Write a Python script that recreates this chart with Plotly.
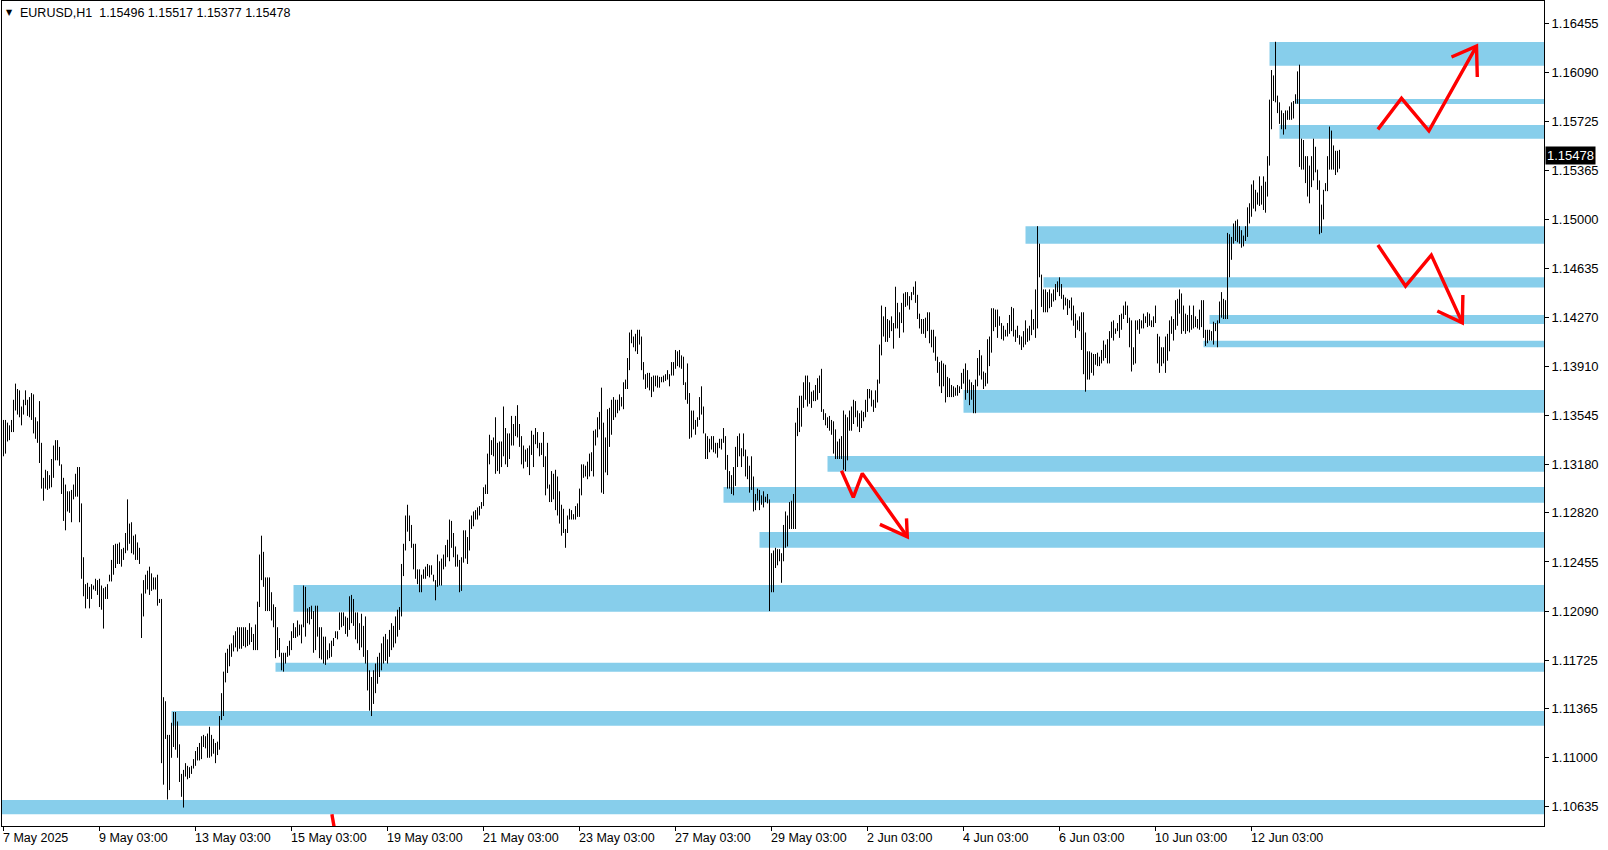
import plotly.graph_objects as go

# ---------------- data (EURUSD H1, bar index 0 = 7 May 2025 03:00) ----------------
highs = [
 1.1351,1.1351,1.1349,1.1347,1.1351,1.1366,1.1378,1.1374,1.1373,1.1361,
 1.1366,1.1373,1.1366,1.1368,1.1371,1.1370,1.1353,1.1350,1.1365,1.1334,
 1.1308,1.1314,1.1313,1.1310,1.1322,1.1332,1.1336,1.1336,1.1331,1.1318,
 1.1308,1.1303,1.1298,1.1298,1.1299,1.1303,1.1311,1.1316,1.1316,1.1289,
 1.1249,1.1229,1.1230,1.1227,1.1229,1.1228,1.1233,1.1232,1.1233,1.1228,
 1.1226,1.1227,1.1229,1.1236,1.1247,1.1258,1.1259,1.1259,1.1260,1.1255,
 1.1256,1.1267,1.1292,1.1274,1.1275,1.1265,1.1266,1.1260,1.1256,1.1222,
 1.1232,1.1236,1.1239,1.1242,1.1237,1.1234,1.1234,1.1236,1.1218,1.1218,
 1.1145,1.1142,1.1117,1.1117,1.1126,1.1134,1.1134,1.1127,1.1110,1.1088,
 1.1091,1.1096,1.1094,1.1093,1.1094,1.1099,1.1105,1.1108,1.1111,1.1116,
 1.1117,1.1116,1.1118,1.1123,1.1117,1.1114,1.1111,1.1112,1.1131,1.1148,
 1.1164,1.1178,1.1181,1.1184,1.1185,1.1191,1.1194,1.1197,1.1197,1.1197,
 1.1197,1.1197,1.1195,1.1200,1.1197,1.1192,1.1199,1.1216,1.1251,1.1265,
 1.1253,1.1234,1.1234,1.1234,1.1223,1.1214,1.1212,1.1197,1.1189,1.1178,
 1.1178,1.1178,1.1183,1.1187,1.1194,1.1200,1.1197,1.1202,1.1199,1.1199,
 1.1228,1.1227,1.1211,1.1212,1.1213,1.1209,1.1213,1.1213,1.1197,1.1197,
 1.1190,1.1190,1.1180,1.1185,1.1187,1.1189,1.1194,1.1194,1.1208,1.1208,
 1.1208,1.1205,1.1204,1.1220,1.1221,1.1218,1.1208,1.1208,1.1200,1.1207,
 1.1198,1.1205,1.1180,1.1165,1.1160,1.1165,1.1170,1.1175,1.1178,1.1185,
 1.1190,1.1192,1.1188,1.1195,1.1200,1.1198,1.1205,1.1210,1.1212,1.1244,
 1.1259,1.1280,1.1288,1.1280,1.1273,1.1259,1.1259,1.1240,1.1240,1.1236,
 1.1240,1.1242,1.1244,1.1243,1.1243,1.1236,1.1232,1.1251,1.1246,1.1248,
 1.1251,1.1258,1.1262,1.1277,1.1276,1.1267,1.1257,1.1251,1.1247,1.1249,
 1.1269,1.1269,1.1264,1.1277,1.1280,1.1283,1.1284,1.1286,1.1287,1.1290,
 1.1301,1.1303,1.1326,1.1340,1.1336,1.1338,1.1353,1.1334,1.1335,1.1335,
 1.1361,1.1345,1.1341,1.1341,1.1354,1.1348,1.1354,1.1362,1.1348,1.1339,
 1.1332,1.1329,1.1330,1.1332,1.1343,1.1340,1.1345,1.1342,1.1334,1.1334,
 1.1342,1.1324,1.1334,1.1303,1.1313,1.1311,1.1314,1.1309,1.1298,1.1288,
 1.1285,1.1270,1.1280,1.1285,1.1284,1.1281,1.1287,1.1289,1.1300,1.1318,
 1.1318,1.1317,1.1320,1.1326,1.1327,1.1343,1.1344,1.1353,1.1357,1.1375,
 1.1349,1.1338,1.1359,1.1360,1.1366,1.1368,1.1366,1.1366,1.1370,1.1368,
 1.1379,1.1381,1.1397,1.1416,1.1418,1.1413,1.1415,1.1418,1.1418,1.1413,
 1.1394,1.1385,1.1386,1.1386,1.1383,1.1384,1.1384,1.1384,1.1383,1.1383,
 1.1384,1.1385,1.1388,1.1385,1.1394,1.1394,1.1403,1.1402,1.1403,1.1399,
 1.1398,1.1379,1.1393,1.1371,1.1358,1.1358,1.1351,1.1353,1.1368,1.1376,
 1.1361,1.1341,1.1339,1.1337,1.1339,1.1339,1.1334,1.1334,1.1337,1.1337,
 1.1345,1.1339,1.1325,1.1313,1.1310,1.1316,1.1331,1.1339,1.1341,1.1330,
 1.1341,1.1329,1.1324,1.1317,1.1324,1.1309,1.1296,1.1300,1.1299,1.1295,
 1.1298,1.1294,1.1296,1.1292,1.1252,1.1254,1.1256,1.1255,1.1255,1.1252,
 1.1273,1.1283,1.1280,1.1290,1.1291,1.1296,1.1349,1.1360,1.1369,1.1369,
 1.1379,1.1384,1.1384,1.1379,1.1372,1.1373,1.1377,1.1382,1.1384,1.1389,
 1.1359,1.1356,1.1353,1.1354,1.1351,1.1350,1.1344,1.1335,1.1337,1.1339,
 1.1358,1.1355,1.1353,1.1358,1.1361,1.1366,1.1365,1.1358,1.1356,1.1358,
 1.1357,1.1366,1.1374,1.1374,1.1373,1.1366,1.1373,1.1381,1.1407,1.1436,
 1.1428,1.1435,1.1426,1.1425,1.1428,1.1423,1.1450,1.1438,1.1431,1.1438,
 1.1445,1.1446,1.1446,1.1443,1.1446,1.1450,1.1454,1.1444,1.1430,1.1426,
 1.1426,1.1427,1.1431,1.1431,1.1418,1.1418,1.1413,1.1398,1.1394,1.1395,
 1.1393,1.1392,1.1383,1.1382,1.1377,1.1376,1.1375,1.1377,1.1376,1.1386,
 1.1389,1.1393,1.1388,1.1381,1.1379,1.1377,1.1381,1.1397,1.1403,1.1399,
 1.1387,1.1386,1.1411,1.1413,1.1434,1.1434,1.1433,1.1433,1.1428,1.1423,
 1.1421,1.1418,1.1423,1.1429,1.1435,1.1434,1.1418,1.1421,1.1414,1.1413,
 1.1417,1.1425,1.1419,1.1421,1.1433,1.1426,1.1448,1.1495,1.1482,1.1459,
 1.1448,1.1448,1.1446,1.1448,1.1445,1.1448,1.1452,1.1454,1.1457,1.1452,
 1.1444,1.1442,1.1441,1.1440,1.1442,1.1436,1.1430,1.1425,1.1428,1.1431,
 1.1431,1.1416,1.1402,1.1402,1.1401,1.1400,1.1400,1.1401,1.1398,1.1403,
 1.1410,1.1407,1.1411,1.1417,1.1424,1.1425,1.1419,1.1423,1.1429,1.1430,
 1.1436,1.1439,1.1436,1.1427,1.1425,1.1405,1.1425,1.1425,1.1426,1.1425,
 1.1430,1.1428,1.1431,1.1430,1.1425,1.1428,1.1436,1.1415,1.1413,1.1405,
 1.1405,1.1413,1.1415,1.1425,1.1428,1.1426,1.1440,1.1441,1.1448,1.1445,
 1.1436,1.1430,1.1429,1.1436,1.1429,1.1436,1.1428,1.1426,1.1433,1.1440,
 1.1440,1.1418,1.1418,1.1418,1.1417,1.1424,1.1423,1.1425,1.1439,1.1446,
 1.1441,1.1440,1.1490,1.1489,1.1487,1.1497,1.1499,1.1500,1.1495,1.1492,
 1.1488,1.1495,1.1509,1.1512,1.1526,1.1529,1.1522,1.1520,1.1532,1.1525,
 1.1532,1.1528,1.1547,1.1589,1.1611,1.1607,1.1632,1.1592,1.1587,1.1581,
 1.1579,1.1581,1.1581,1.1584,1.1587,1.1588,1.1593,1.1610,1.1615,1.1560,
 1.1559,1.1547,1.1547,1.1540,1.1547,1.1560,1.1554,1.1537,1.1529,1.1511,
 1.1522,1.1527,1.1547,1.1569,1.1566,1.1555,1.1551,1.1551,1.15517,
]

lows = [
 1.1324,1.1326,1.1335,1.1336,1.1342,1.1342,1.1358,1.1355,1.1353,1.1347,
 1.1355,1.1362,1.1354,1.1353,1.1351,1.1341,1.1337,1.1334,1.1319,1.1300,
 1.1291,1.1300,1.1299,1.1300,1.1301,1.1308,1.1321,1.1321,1.1317,1.1296,
 1.1276,1.1269,1.1283,1.1282,1.1275,1.1292,1.1294,1.1294,1.1275,1.1233,
 1.1220,1.1211,1.1218,1.1211,1.1218,1.1225,1.1224,1.1221,1.1212,1.1210,
 1.1196,1.1218,1.1218,1.1231,1.1231,1.1236,1.1241,1.1244,1.1244,1.1242,
 1.1247,1.1252,1.1254,1.1259,1.1252,1.1251,1.1247,1.1247,1.1244,1.1189,
 1.1205,1.1222,1.1225,1.1221,1.1224,1.1225,1.1225,1.1213,1.1215,1.1096,
 1.1080,1.1114,1.1069,1.1076,1.1100,1.1108,1.1106,1.1100,1.1082,1.1071,
 1.1063,1.1086,1.1084,1.1085,1.1088,1.1092,1.1094,1.1098,1.1098,1.1099,
 1.1108,1.1107,1.1100,1.1100,1.1101,1.1103,1.1096,1.1102,1.1106,1.1128,
 1.1131,1.1156,1.1163,1.1168,1.1175,1.1179,1.1182,1.1179,1.1181,1.1181,
 1.1183,1.1182,1.1183,1.1184,1.1186,1.1180,1.1180,1.1180,1.1212,1.1232,
 1.1227,1.1209,1.1209,1.1209,1.1202,1.1197,1.1174,1.1180,1.1175,1.1165,
 1.1164,1.1170,1.1175,1.1176,1.1180,1.1189,1.1189,1.1190,1.1191,1.1185,
 1.1197,1.1190,1.1200,1.1199,1.1203,1.1178,1.1180,1.1190,1.1174,1.1173,
 1.1170,1.1169,1.1173,1.1174,1.1175,1.1183,1.1189,1.1188,1.1195,1.1197,
 1.1198,1.1192,1.1190,1.1195,1.1200,1.1198,1.1188,1.1185,1.1180,1.1182,
 1.1175,1.1170,1.1150,1.1135,1.1131,1.1140,1.1148,1.1155,1.1160,1.1165,
 1.1170,1.1172,1.1170,1.1175,1.1180,1.1182,1.1185,1.1190,1.1195,1.1205,
 1.1235,1.1254,1.1268,1.1261,1.1256,1.1240,1.1233,1.1229,1.1223,1.1223,
 1.1233,1.1233,1.1235,1.1234,1.1236,1.1231,1.1217,1.1227,1.1228,1.1228,
 1.1240,1.1242,1.1249,1.1246,1.1256,1.1249,1.1242,1.1242,1.1223,1.1224,
 1.1245,1.1248,1.1244,1.1254,1.1270,1.1272,1.1277,1.1277,1.1280,1.1285,
 1.1287,1.1296,1.1296,1.1318,1.1325,1.1324,1.1311,1.1313,1.1311,1.1316,
 1.1324,1.1318,1.1316,1.1322,1.1332,1.1332,1.1339,1.1338,1.1331,1.1318,
 1.1315,1.1320,1.1316,1.1310,1.1325,1.1316,1.1333,1.1330,1.1324,1.1325,
 1.1316,1.1295,1.1300,1.1290,1.1290,1.1292,1.1284,1.1280,1.1274,1.1265,
 1.1267,1.1256,1.1267,1.1277,1.1277,1.1277,1.1277,1.1279,1.1279,1.1295,
 1.1308,1.1309,1.1307,1.1309,1.1313,1.1309,1.1332,1.1338,1.1344,1.1297,
 1.1296,1.1312,1.1310,1.1331,1.1340,1.1351,1.1353,1.1356,1.1358,1.1361,
 1.1359,1.1374,1.1374,1.1388,1.1408,1.1405,1.1402,1.1400,1.1407,1.1388,
 1.1381,1.1374,1.1375,1.1373,1.1368,1.1372,1.1376,1.1375,1.1375,1.1379,
 1.1379,1.1380,1.1381,1.1376,1.1384,1.1384,1.1389,1.1391,1.1390,1.1389,
 1.1377,1.1366,1.1363,1.1337,1.1338,1.1344,1.1340,1.1346,1.1351,1.1355,
 1.1341,1.1322,1.1322,1.1327,1.1329,1.1327,1.1326,1.1323,1.1330,1.1329,
 1.1334,1.1314,1.1300,1.1300,1.1296,1.1295,1.1302,1.1316,1.1324,1.1316,
 1.1324,1.1309,1.1307,1.1297,1.1299,1.1283,1.1284,1.1291,1.1284,1.1288,
 1.1286,1.1290,1.1289,1.1209,1.1223,1.1223,1.1241,1.1243,1.1246,1.1230,
 1.1246,1.1256,1.1257,1.1270,1.1270,1.1270,1.1270,1.1339,1.1342,1.1346,
 1.1360,1.1366,1.1361,1.1363,1.1360,1.1365,1.1365,1.1366,1.1371,1.1357,
 1.1351,1.1347,1.1345,1.1343,1.1340,1.1326,1.1322,1.1322,1.1322,1.1322,
 1.1314,1.1313,1.1321,1.1343,1.1343,1.1348,1.1353,1.1346,1.1342,1.1345,
 1.1350,1.1353,1.1357,1.1367,1.1361,1.1357,1.1360,1.1364,1.1378,1.1399,
 1.1413,1.1409,1.1409,1.1412,1.1417,1.1404,1.1419,1.1419,1.1412,1.1423,
 1.1416,1.1435,1.1436,1.1433,1.1440,1.1444,1.1438,1.1426,1.1419,1.1415,
 1.1415,1.1412,1.1417,1.1408,1.1405,1.1401,1.1395,1.1386,1.1376,1.1371,
 1.1376,1.1364,1.1368,1.1368,1.1368,1.1368,1.1369,1.1369,1.1371,1.1374,
 1.1378,1.1366,1.1371,1.1362,1.1366,1.1356,1.1356,1.1376,1.1384,1.1381,
 1.1374,1.1376,1.1378,1.1391,1.1401,1.1417,1.1420,1.1412,1.1421,1.1411,
 1.1410,1.1413,1.1413,1.1415,1.1417,1.1413,1.1409,1.1412,1.1407,1.1403,
 1.1405,1.1407,1.1409,1.1410,1.1414,1.1418,1.1412,1.1419,1.1457,1.1435,
 1.1431,1.1431,1.1431,1.1434,1.1435,1.1439,1.1440,1.1446,1.1443,1.1441,
 1.1433,1.1436,1.1429,1.1434,1.1425,1.1421,1.1412,1.1418,1.1417,1.1403,
 1.1385,1.1372,1.1381,1.1381,1.1386,1.1384,1.1392,1.1391,1.1391,1.1393,
 1.1395,1.1397,1.1393,1.1393,1.1412,1.1410,1.1415,1.1417,1.1412,1.1418,
 1.1426,1.1429,1.1423,1.1405,1.1387,1.1392,1.1393,1.1418,1.1415,1.1419,
 1.1419,1.1423,1.1420,1.1421,1.1420,1.1420,1.1423,1.1393,1.1386,1.1391,
 1.1393,1.1386,1.1395,1.1402,1.1415,1.1410,1.1418,1.1421,1.1430,1.1415,
 1.1417,1.1415,1.1417,1.1416,1.1418,1.1419,1.1420,1.1419,1.1418,1.1420,
 1.1412,1.1406,1.1408,1.1410,1.1410,1.1407,1.1417,1.1405,1.1423,1.1427,
 1.1426,1.1426,1.1426,1.1457,1.1470,1.1482,1.1484,1.1483,1.1482,1.1479,
 1.1480,1.1484,1.1487,1.1497,1.1502,1.1508,1.1506,1.1511,1.1510,1.1511,
 1.1507,1.1505,1.1517,1.1540,1.1567,1.1588,1.1587,1.1579,1.1571,1.1567,
 1.1563,1.1567,1.1574,1.1574,1.1574,1.1575,1.1586,1.1586,1.1539,1.1537,
 1.1537,1.1527,1.1517,1.1512,1.1524,1.1529,1.1535,1.1522,1.1489,1.1490,
 1.1500,1.1521,1.1521,1.1537,1.1537,1.1537,1.1533,1.1535,1.15377,
]

date_tick_bars = [0, 48, 96, 144, 192, 240, 288, 336, 384, 432, 480, 528, 576, 624]
date_tick_text = ["7 May 2025", "9 May 03:00", "13 May 03:00", "15 May 03:00",
                  "19 May 03:00", "21 May 03:00", "23 May 03:00", "27 May 03:00",
                  "29 May 03:00", "2 Jun 03:00", "4 Jun 03:00", "6 Jun 03:00",
                  "10 Jun 03:00", "12 Jun 03:00"]

price_ticks = [1.16455, 1.16090, 1.15725, 1.15365, 1.15000, 1.14635, 1.14270,
               1.13910, 1.13545, 1.13180, 1.12820, 1.12455, 1.12090, 1.11725,
               1.11365, 1.11000, 1.10635]
price_tick_text = ["%.5f" % p for p in price_ticks]

# supply / demand zones: start bar, top price, bottom price
zone_start = [633, 646, 638, 511, 520, 603, 600, 480, 412, 360, 378, 145, 136, 84, -1]
zone_top = [1.16318, 1.15894, 1.15701, 1.14950, 1.14570, 1.14290, 1.14099, 1.13732,
            1.13242, 1.13012, 1.12677, 1.12283, 1.11706, 1.11347, 1.10686]
zone_bottom = [1.16141, 1.15857, 1.15599, 1.14819, 1.14494, 1.14223, 1.14050, 1.13564,
               1.13126, 1.12895, 1.12561, 1.12085, 1.11639, 1.11238, 1.10580]

# hand-drawn red arrows (bar index, price)
arrow_up_x = [687.2, 699.0, 712.7, 736.5]
arrow_up_y = [1.15669, 1.15900, 1.15659, 1.16288]
arrow_up_head_x = [724.0, 736.5, 736.9]
arrow_up_head_y = [1.16207, 1.16288, 1.16058]

arrow_dn_x = [687.2, 701.0, 713.9, 729.4]
arrow_dn_y = [1.14810, 1.14505, 1.14735, 1.14232]
arrow_dn_head_x = [716.9, 729.4, 729.7]
arrow_dn_head_y = [1.14319, 1.14232, 1.14438]

arrow_mid_x = [419.0, 424.9, 429.4, 451.9]
arrow_mid_y = [1.13133, 1.12935, 1.13113, 1.12642]
arrow_mid_head_x = [438.2, 451.9, 451.5]
arrow_mid_head_y = [1.12734, 1.12642, 1.12779]

mark_x = [164.2, 165.6]
mark_y = [1.10580, 1.10460]

header_text = "EURUSD,H1\u00a0\u00a01.15496 1.15517 1.15377 1.15478"
last_price = 1.15478

X_RANGE = [-0.75, 770.25]
Y_RANGE = [1.10493, 1.16623]
FONT = "Liberation Sans, Arial, sans-serif"

# ---------------- figure ----------------
fig = go.Figure()

bx, by = [], []
for i, (h, l) in enumerate(zip(highs, lows)):
    bx += [i, i, None]
    by += [l, h, None]
fig.add_trace(go.Scatter(x=bx, y=by, mode="lines",
                         line=dict(color="black", width=1),
                         hoverinfo="skip", showlegend=False))

red = "#ff0000"
for xs, ys in [(arrow_up_x, arrow_up_y), (arrow_up_head_x, arrow_up_head_y),
               (arrow_dn_x, arrow_dn_y), (arrow_dn_head_x, arrow_dn_head_y),
               (arrow_mid_x, arrow_mid_y), (arrow_mid_head_x, arrow_mid_head_y),
               (mark_x, mark_y)]:
    fig.add_trace(go.Scatter(x=xs, y=ys, mode="lines",
                             line=dict(color=red, width=3.4),
                             hoverinfo="skip", showlegend=False))

shapes = []
for s, t, b in zip(zone_start, zone_top, zone_bottom):
    shapes.append(dict(type="rect", xref="x", yref="y",
                       x0=max(s, X_RANGE[0]), x1=X_RANGE[1], y0=b, y1=t,
                       fillcolor="#87ceeb", line=dict(width=0), layer="below"))

annotations = []
for b, txt in zip(date_tick_bars, date_tick_text):
    annotations.append(dict(x=b, y=0, xref="x", yref="paper", text=txt,
                            showarrow=False, xanchor="left", yanchor="top",
                            xshift=-3, yshift=-3,
                            font=dict(family=FONT, size=12.5, color="black")))
annotations.append(dict(x=0, y=1, xref="paper", yref="paper", text="\u25bc",
                        showarrow=False, xanchor="left", yanchor="top",
                        xshift=2, yshift=-5,
                        font=dict(family="DejaVu Sans", size=8, color="black")))
annotations.append(dict(x=0, y=1, xref="paper", yref="paper", text=header_text,
                        showarrow=False, xanchor="left", yanchor="top",
                        xshift=16, yshift=-3,
                        font=dict(family=FONT, size=12.5, color="black")))
annotations.append(dict(x=1, y=last_price, xref="paper", yref="y",
                        text="%.5f" % last_price, showarrow=False,
                        xanchor="left", yanchor="middle", xshift=1,
                        bgcolor="black", borderpad=1,
                        font=dict(family=FONT, size=13, color="white")))

fig.update_layout(
    width=1608, height=850,
    margin=dict(l=2, r=64, t=1, b=24),
    paper_bgcolor="white", plot_bgcolor="white",
    shapes=shapes, annotations=annotations,
    showlegend=False,
    xaxis=dict(range=X_RANGE, showgrid=False, zeroline=False,
               showline=True, mirror=True, linecolor="black", linewidth=1,
               ticks="outside", ticklen=4, tickcolor="black", tickwidth=1,
               tickmode="array", tickvals=date_tick_bars, showticklabels=False,
               fixedrange=True),
    yaxis=dict(range=Y_RANGE, side="right", showgrid=False, zeroline=False,
               showline=True, mirror=True, linecolor="black", linewidth=1,
               ticks="outside", ticklen=4, tickcolor="black", tickwidth=1,
               tickmode="array", tickvals=price_ticks, ticktext=price_tick_text,
               tickfont=dict(family=FONT, size=13, color="black"),
               automargin=False, fixedrange=True),
)

fig.write_html("out.html", config={"displayModeBar": False},
               post_script="document.body.style.margin='0';document.body.style.overflow='hidden';")
